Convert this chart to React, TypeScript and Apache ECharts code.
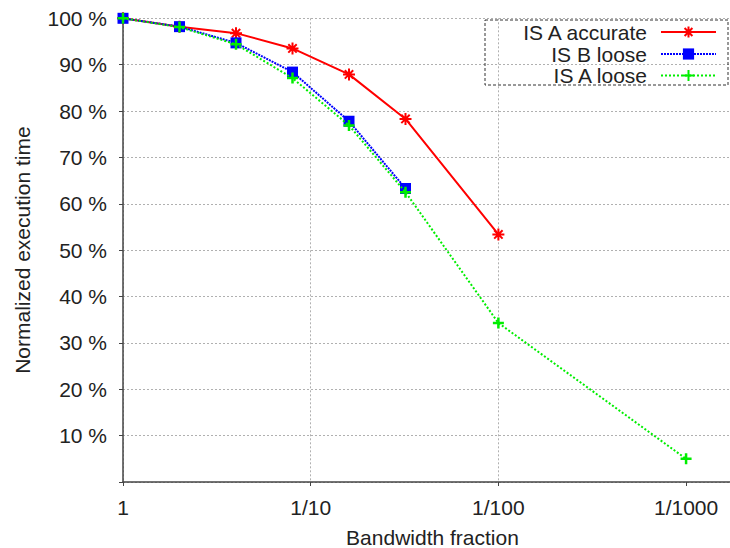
import React, { useEffect, useRef } from "react";
import * as echarts from "echarts";

// Bandwidth fraction denominators (1, 1/2, 1/4, ... 1/1000)
const denominators = [1, 2, 4, 8, 16, 32, 100, 1000];
const xTickValues = [1, 10, 100, 1000];
const xTickLabels = ["1", "1/10", "1/100", "1/1000"];
const seriesNames = ["IS A accurate", "IS B loose", "IS A loose"];
const isAAccurate = [100, 98.2, 96.8, 93.5, 87.9, 78.3, 53.4];
const isBLoose = [100, 98.2, 94.7, 88.4, 77.8, 63.3];
const isALoose = [100, 98.1, 94.4, 87.1, 76.9, 62.5, 34.3, 5.0];
const yTicks = [10, 20, 30, 40, 50, 60, 70, 80, 90, 100];

const FONT = "'Liberation Sans', Arial, Helvetica, sans-serif";
const TEXT = "#222222";
const AXIS = "#444444";

const toPoints = (vals: number[]) => vals.map((v, i) => [denominators[i], v]);

export default function App() {
  const ref = useRef<HTMLDivElement>(null);
  useEffect(() => {
    if (!ref.current) return;
    const chart = echarts.init(ref.current, null, { renderer: "svg" });
    const legendBase = {
      orient: "vertical",
      align: "right",
      right: 13,
      padding: 0,
      itemWidth: 55,
      itemHeight: 14,
      textStyle: {
        fontSize: 21,
        lineHeight: 20,
        color: TEXT,
        fontFamily: FONT,
        padding: [0, 9, 0, 0],
      },
    };
    chart.setOption({
      animation: false,
      backgroundColor: "#ffffff",
      grid: {
        left: 123,
        right: 0,
        top: 18.3,
        bottom: 66,
        containLabel: false,
        outerBoundsMode: "none",
      },
      legend: [
        { ...legendBase, data: [seriesNames[0]], top: 21.5 },
        { ...legendBase, data: [seriesNames[1]], top: 43.5 },
        { ...legendBase, data: [seriesNames[2]], top: 65 },
      ],
      graphic: [
        {
          type: "rect",
          shape: { x: 485, y: 20, width: 243, height: 65 },
          style: { fill: "none", stroke: "#333", lineWidth: 1, lineDash: [3, 2] },
          z: 1,
        },
      ],
      xAxis: {
        type: "log",
        logBase: 10,
        min: 1,
        max: 1714,
        name: "Bandwidth fraction",
        nameLocation: "middle",
        nameGap: 45,
        nameTextStyle: { fontSize: 21, color: TEXT, fontFamily: FONT, padding: [0, 0, 0, 12] },
        axisLine: { lineStyle: { color: AXIS, width: 1.5 } },
        axisTick: {
          show: true,
          length: 4,
          inside: false,
          customValues: xTickValues,
          lineStyle: { color: AXIS },
        },
        minorTick: { show: false },
        axisLabel: {
          fontSize: 21,
          color: TEXT,
          fontFamily: FONT,
          margin: 15,
          customValues: xTickValues,
          formatter: (v: number) => {
            const e = Math.log10(v);
            if (Math.abs(e - Math.round(e)) > 1e-6) return "";
            return xTickLabels[Math.round(e)] ?? "";
          },
        },
        splitLine: {
          show: true,
          showMaxLine: false,
          lineStyle: { color: "#b0b0b0", width: 1, type: [2, 2] },
        },
      },
      yAxis: {
        type: "value",
        min: 0,
        max: 100,
        interval: 10,
        name: "Normalized execution time",
        nameLocation: "middle",
        nameGap: 90,
        nameTextStyle: { fontSize: 21, color: TEXT, fontFamily: FONT },
        axisLine: { show: true, lineStyle: { color: AXIS, width: 1.5 } },
        axisTick: { show: true, length: 4, inside: false, lineStyle: { color: AXIS } },
        axisLabel: {
          fontSize: 21,
          color: TEXT,
          fontFamily: FONT,
          margin: 16,
          formatter: (v: number) => (yTicks.includes(v) ? `${v} %` : ""),
        },
        splitLine: { show: true, lineStyle: { color: "#b0b0b0", width: 1, type: [2, 2] } },
      },
      series: [
        {
          name: seriesNames[0],
          type: "line",
          data: toPoints(isAAccurate),
          symbol: "path://M0,5L10,5M5,0L5,10M1.5,1.5L8.5,8.5M8.5,1.5L1.5,8.5",
          symbolSize: 12,
          showAllSymbol: true,
          lineStyle: { color: "#ff0000", width: 2 },
          itemStyle: { color: "#ff0000", borderColor: "#ff0000", borderWidth: 2 },
          z: 3,
        },
        {
          name: seriesNames[1],
          type: "line",
          data: toPoints(isBLoose),
          symbol: "rect",
          symbolSize: 11,
          showAllSymbol: true,
          lineStyle: { color: "#0000ff", width: 2, type: [2, 1] },
          itemStyle: { color: "#0000ff", borderWidth: 0 },
          z: 4,
        },
        {
          name: seriesNames[2],
          type: "line",
          data: toPoints(isALoose),
          symbol: "path://M0,5L10,5M5,0L5,10",
          symbolSize: 11,
          showAllSymbol: true,
          lineStyle: { color: "#00ee00", width: 2, type: [2, 2] },
          itemStyle: { color: "#00ee00", borderColor: "#00ee00", borderWidth: 2.5 },
          z: 5,
        },
      ],
    });
    return () => chart.dispose();
  }, []);
  return (
    <div
      ref={ref}
      style={{ position: "absolute", left: 0, top: 0, width: 730, height: 548 }}
    />
  );
}
